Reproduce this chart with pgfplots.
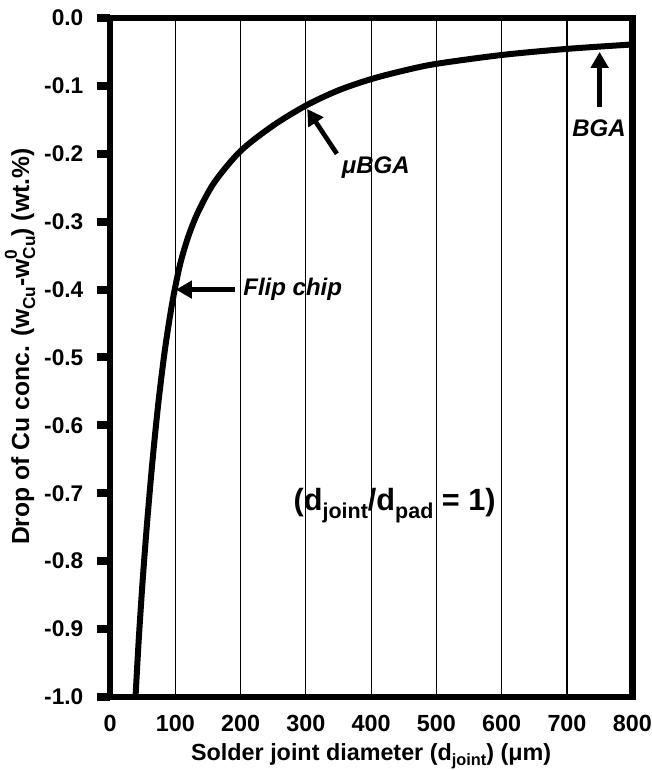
\documentclass[border=0pt]{standalone}
\usepackage{pgfplots}
\pgfplotsset{compat=1.18}
\usepackage{graphicx}
\usepackage{fontspec}
\setmainfont{Liberation Sans}
\usetikzlibrary{arrows.meta}
\newcommand{\sub}[1]{\raisebox{-0.45ex}{\scalebox{0.7}{#1}}}
\newcommand{\supsub}[2]{\makebox[0pt][l]{\raisebox{0.95ex}{\scalebox{0.7}{#1}}}\raisebox{-0.45ex}{\scalebox{0.7}{#2}}}
\begin{document}
\begin{tikzpicture}
\begin{axis}[
  scale only axis,
  width=391.5pt, height=509pt,
  xmin=0, xmax=800, ymin=-1, ymax=0,
  xtick={0,100,200,300,400,500,600,700,800},
  ytick={-1,-0.9,-0.8,-0.7,-0.6,-0.5,-0.4,-0.3,-0.2,-0.1,0},
  xmajorgrids,
  grid style={black, line width=0.9pt},
  axis line style={line width=5pt, black},
  xtick style={draw=none},
  ytick style={line width=6pt, black},
  ytick pos=left,
  tick align=outside,
  major tick length=10pt,
  /pgf/number format/assume math mode=true,
  yticklabel style={font=\bfseries\fontsize{17}{20}\selectfont, xshift=-6.5pt,
    /pgf/number format/.cd, fixed, fixed zerofill, precision=1},
  xticklabel style={font=\bfseries\fontsize{17.5}{20}\selectfont,
    /pgf/number format/.cd, fixed, precision=0},
  scaled ticks=false,
  xlabel={Solder joint diameter (d\sub{joint}) (μm)},
  ylabel={Drop of Cu conc. (w\sub{Cu}-w\supsub{0}{Cu}) (wt.\%)},
  every axis x label/.style={at={(axis description cs:0.5,-0.093)}, anchor=base,
    font=\bfseries\fontsize{17.5}{20}\selectfont},
  every axis y label/.style={at={(axis description cs:-0.1724,0.516)}, anchor=center, rotate=90,
    font=\bfseries\fontsize{18.5}{21}\selectfont},
]
\addplot[black, line width=4.5pt, smooth, tension=0.5] coordinates {
  (39,-1.0) (44,-0.915) (50,-0.828) (57,-0.7405) (65,-0.6525) (74,-0.567)
  (84,-0.489) (95,-0.421) (107,-0.364) (120,-0.3215) (135,-0.2855)
  (160,-0.2418) (200,-0.1958) (250,-0.1583) (300,-0.129) (350,-0.1065)
  (400,-0.090) (450,-0.0775) (500,-0.0675) (600,-0.0545) (700,-0.0455) (800,-0.039)
};
\draw[black, line width=3.5pt, -{Triangle[length=12pt,width=13pt]}] (axis cs:191,-0.40) -- (axis cs:101,-0.40);
\node[anchor=west, font=\bfseries\itshape\fontsize{18}{21}\selectfont] at (axis cs:197,-0.40) {Flip chip};
\draw[black, line width=3.5pt, -{Triangle[length=12pt,width=13pt]}] (axis cs:347.5,-0.20) -- (axis cs:302,-0.134);
\node[font=\bfseries\itshape\fontsize{18}{21}\selectfont] at (axis cs:407,-0.221) {μBGA};
\draw[black, line width=3.5pt, -{Triangle[length=12pt,width=13pt]}] (axis cs:750,-0.131) -- (axis cs:750,-0.050);
\node[font=\bfseries\itshape\fontsize{18}{21}\selectfont] at (axis cs:749,-0.163) {BGA};
\node[font=\bfseries\fontsize{23}{27}\selectfont] at (axis cs:436,-0.718) {(d\sub{joint}/d\sub{pad} = 1)};
\end{axis}
\pgfresetboundingbox
\path[use as bounding box] ([shift={(-82.5pt,-54.75pt)}]current axis.south west) rectangle ([shift={(14.25pt,13.5pt)}]current axis.north east);
\end{tikzpicture}
\end{document}
